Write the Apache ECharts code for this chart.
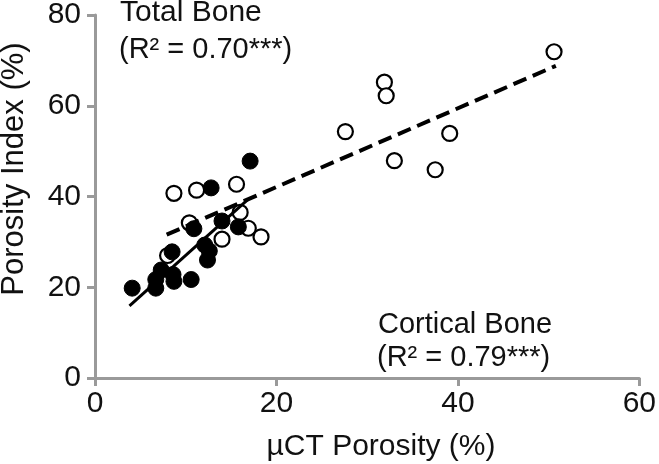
<!DOCTYPE html>
<html>
<head>
<meta charset="utf-8">
<script src="https://cdn.jsdelivr.net/npm/echarts@6/dist/echarts.min.js"></script>
<style>
  html, body { margin: 0; padding: 0; background: #fff; }
  #chart { width: 659px; height: 464px; }
</style>
</head>
<body>
<div id="chart"></div>
<script>
// cortical bone (filled circles): [uCT porosity, porosity index]
const corticalPoints = [
  [4.1, 19.8], [6.7, 19.8], [6.7, 21.7], [7.3, 23.8], [8.6, 22.8],
  [8.7, 21.3], [10.6, 21.7], [8.5, 27.8], [12.4, 26.0], [12.6, 28.0],
  [12.1, 29.3], [10.9, 32.9], [14.0, 34.6], [15.8, 33.3], [12.8, 41.9],
  [17.1, 47.8]
];
// total bone (open circles)
const totalPoints = [
  [8.0, 27.0], [8.7, 40.7], [11.2, 41.4], [15.6, 42.7], [10.4, 34.2],
  [16.0, 36.5], [16.9, 33.0], [18.3, 31.1], [14.0, 30.6], [27.6, 54.3],
  [31.9, 65.2], [32.1, 62.2], [33.0, 47.9], [37.5, 45.9], [39.1, 53.9],
  [50.6, 71.9]
];
// regression lines
const corticalFit = [[3.8, 15.9], [16.9, 39.4]];
const totalFit = [[7.9, 31.6], [50.8, 68.8]];

const xTicks = [0, 20, 40, 60];
const yTicks = [0, 20, 40, 60, 80];

const font = "'Liberation Sans', Arial, sans-serif";
const axisGray = "#9a9a9a";

const chart = echarts.init(document.getElementById("chart"));

const axisCommon = {
  type: "value",
  splitLine: { show: false },
  axisLine: { show: true, lineStyle: { color: axisGray, width: 3 } },
  axisTick: { show: true, length: 8, lineStyle: { color: axisGray, width: 3 } },
  axisLabel: { color: "#111", fontSize: 30, fontFamily: font },
};

const option = {
  animation: false,
  grid: { left: 95, right: 15, top: 10, bottom: 86 },
  xAxis: {
    ...axisCommon,
    min: xTicks[0],
    max: xTicks[xTicks.length - 1],
    interval: 20,
    axisLabel: { ...axisCommon.axisLabel, margin: 11 },
  },
  yAxis: {
    ...axisCommon,
    min: yTicks[0],
    max: yTicks[yTicks.length - 1],
    interval: 20,
    axisLabel: { ...axisCommon.axisLabel, margin: 14 },
  },
  graphic: [
    {
      type: "text", x: 14, y: 169, rotation: Math.PI / 2,
      style: { text: "Porosity Index (%)", fontSize: 31, fontFamily: font, fill: "#111", align: "center", verticalAlign: "middle" },
    },
    {
      type: "text", x: 381, y: 447,
      style: { text: "µCT Porosity (%)", fontSize: 30, fontFamily: font, fill: "#111", align: "center", verticalAlign: "middle" },
    },
    {
      type: "text", x: 120, y: 13,
      style: { text: "Total Bone", fontSize: 30, fontFamily: font, fill: "#111", align: "left", verticalAlign: "middle" },
    },
    {
      type: "text", x: 119, y: 50,
      style: { text: "(R² = 0.70***)", fontSize: 29, fontFamily: font, fill: "#111", align: "left", verticalAlign: "middle" },
    },
    {
      type: "text", x: 378, y: 325,
      style: { text: "Cortical Bone", fontSize: 29, fontFamily: font, fill: "#111", align: "left", verticalAlign: "middle" },
    },
    {
      type: "text", x: 377, y: 358,
      style: { text: "(R² = 0.79***)", fontSize: 29, fontFamily: font, fill: "#111", align: "left", verticalAlign: "middle" },
    },
  ],
  series: [
    {
      name: "Total Bone",
      type: "scatter",
      data: totalPoints,
      symbol: "circle",
      symbolSize: 15,
      itemStyle: { color: "#fff", borderColor: "#000", borderWidth: 2.2, opacity: 1 },
      z: 2,
    },
    {
      name: "Cortical Bone",
      type: "scatter",
      data: corticalPoints,
      symbol: "circle",
      symbolSize: 16,
      itemStyle: { color: "#000", borderColor: "#000", borderWidth: 1, opacity: 1 },
      z: 3,
    },
    {
      name: "Total fit",
      type: "line",
      data: totalFit,
      showSymbol: false,
      lineStyle: { color: "#000", width: 4, type: [14, 7] },
      z: 4,
    },
    {
      name: "Cortical fit",
      type: "line",
      data: corticalFit,
      showSymbol: false,
      lineStyle: { color: "#000", width: 3 },
      z: 4,
    },
  ],
};

chart.setOption(option);
window.addEventListener("resize", () => chart.resize());
</script>
</body>
</html>
